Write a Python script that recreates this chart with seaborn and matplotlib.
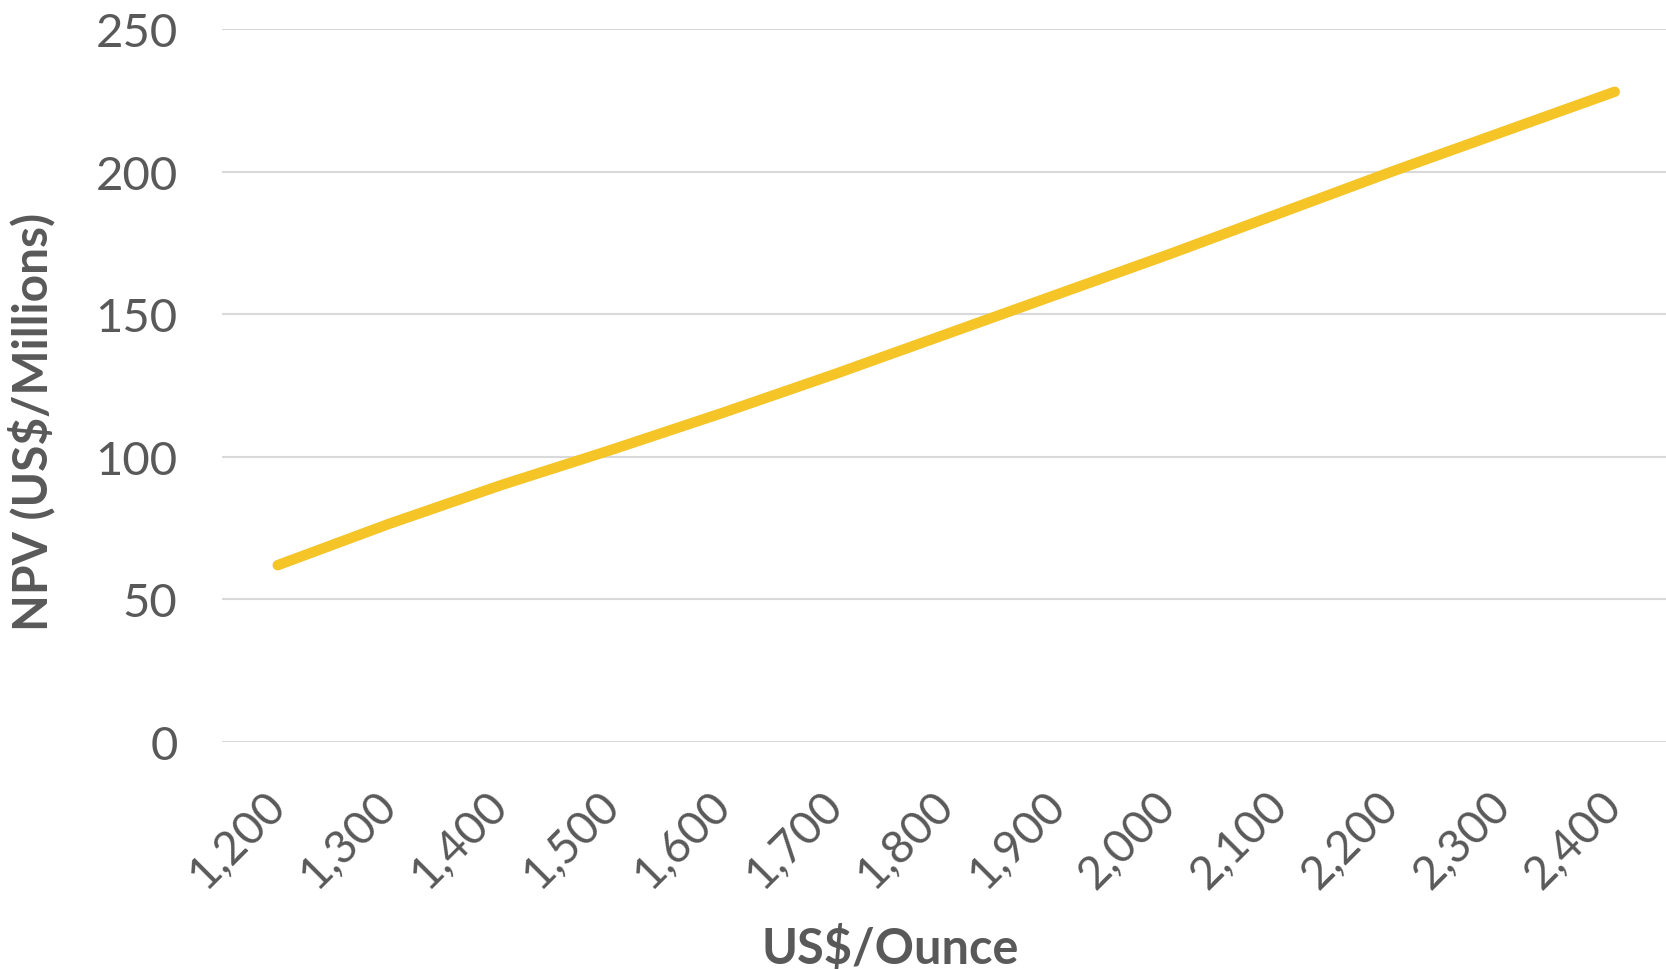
import matplotlib
matplotlib.use("Agg")
import matplotlib.pyplot as plt
import seaborn as sns
import pandas as pd
from matplotlib.ticker import FuncFormatter

# gold price (US$/oz) vs NPV (US$ millions)
prices = [1200, 1300, 1400, 1500, 1600, 1700, 1800, 1900, 2000, 2100, 2200, 2300, 2400]
npv = [62, 76.5, 90, 102.5, 115.5, 129, 143, 157, 171, 185.5, 200, 214, 228]
y_ticks = [0, 50, 100, 150, 200, 250]

df = pd.DataFrame({"price": prices, "npv": npv})

sns.set_theme(style="white")
plt.rcParams["font.family"] = ["Lato", "DejaVu Sans"]

text_color = "#595959"

fig = plt.figure(figsize=(16.66, 9.70), dpi=100)
ax = fig.add_axes([222 / 1666, 227 / 970, 1444 / 1666, 713 / 970])

sns.lineplot(data=df, x="price", y="npv", ax=ax, color="#F5C427",
             linewidth=7.5, solid_capstyle="round", zorder=3)

ax.set_xlim(1150, 2446)
ax.set_ylim(0, 250)
ax.set_xticks(prices)
ax.set_yticks(y_ticks)
ax.xaxis.set_major_formatter(FuncFormatter(lambda v, p: f"{int(v):,}"))

ax.grid(axis="y", color="#d9d9d9", linewidth=1.5)
ax.grid(axis="x", visible=False)
for s in ax.spines.values():
    s.set_visible(False)

ax.tick_params(axis="y", length=0, pad=32, labelsize=34, labelcolor=text_color)
ax.tick_params(axis="x", length=0, pad=40, labelsize=33, labelcolor=text_color)
for lab in ax.get_xticklabels():
    lab.set_rotation(45)
    lab.set_ha("right")
    lab.set_va("center")
    lab.set_rotation_mode("anchor")

ax.set_xlabel("US$/Ounce", fontsize=35, fontweight="bold", color=text_color)
ax.set_ylabel("NPV (US$/Millions)", fontsize=34.5, fontweight="bold", color=text_color)
ax.xaxis.set_label_coords(0.4626, -0.255)
ax.yaxis.set_label_coords(-0.1157, 0.45)

fig.savefig("out.png", dpi=100, facecolor="white")
